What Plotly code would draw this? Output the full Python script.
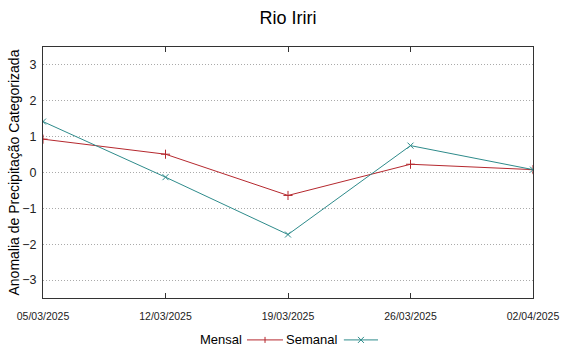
import plotly.graph_objects as go

dates = ["2025-03-05", "2025-03-12", "2025-03-19", "2025-03-26", "2025-04-02"]
mensal = [0.93, 0.51, -0.64, 0.23, 0.08]
semanal = [1.42, -0.13, -1.73, 0.75, 0.08]
y_ticks = [-3, -2, -1, 0, 1, 2, 3]

FONT = "Liberation Sans, Arial, sans-serif"
RED = "#b5282e"
TEAL = "#2e8b8b"

fig = go.Figure()
fig.add_trace(go.Scatter(x=dates, y=mensal, name="Mensal", mode="lines+markers",
                         line=dict(color=RED, width=1),
                         marker=dict(symbol="cross-thin", size=6.5, line=dict(color=RED, width=1))))
fig.add_trace(go.Scatter(x=dates, y=semanal, name="Semanal", mode="lines+markers",
                         line=dict(color=TEAL, width=1),
                         marker=dict(symbol="x-thin", size=6, line=dict(color=TEAL, width=1))))

# Legend drawn gnuplot-style (text before sample), in paper coordinates
LY = -0.167
leg_font = dict(size=13, family=FONT, color="#000")
fig.add_annotation(text="Mensal", x=0.411, y=LY, xref="paper", yref="paper",
                   xanchor="right", yanchor="middle", showarrow=False, font=leg_font)
fig.add_annotation(text="Semanal", x=0.605, y=LY, xref="paper", yref="paper",
                   xanchor="right", yanchor="middle", showarrow=False, font=leg_font)
shape_style = dict(xref="paper", yref="paper", type="line")
fig.add_shape(x0=0.4163, x1=0.4898, y0=LY, y1=LY, line=dict(color=RED, width=1), **shape_style)
fig.add_shape(x0=0.4531, x1=0.4531, y0=LY - 0.012, y1=LY + 0.012, line=dict(color=RED, width=1), **shape_style)
fig.add_shape(x0=0.614, x1=0.6837, y0=LY, y1=LY, line=dict(color=TEAL, width=1), **shape_style)
fig.add_shape(x0=0.6428, x1=0.6550, y0=LY - 0.012, y1=LY + 0.012, line=dict(color=TEAL, width=1), **shape_style)
fig.add_shape(x0=0.6428, x1=0.6550, y0=LY + 0.012, y1=LY - 0.012, line=dict(color=TEAL, width=1), **shape_style)

# y-axis title as rotated annotation for precise placement
fig.add_annotation(text="Anomalia de Precipitação Categorizada", x=0, xref="paper", xshift=-30,
                   y=0.5, yref="paper", textangle=-90, showarrow=False,
                   xanchor="center", yanchor="middle",
                   font=dict(size=14, family=FONT, color="#000"))

fig.update_layout(
    width=567, height=353,
    margin=dict(l=43, r=34, t=47, b=54.5, autoexpand=False),
    paper_bgcolor="white", plot_bgcolor="white",
    font=dict(family=FONT, color="#222"),
    title=dict(text="Rio Iriri", x=0.508, xanchor="center", y=1 - 18 / 353, yanchor="middle",
               font=dict(size=18, family=FONT, color="#000")),
    showlegend=False,
)
fig.update_xaxes(
    type="date", range=[dates[0], dates[-1]], tickvals=dates,
    tickformat="%d/%m/%Y", tickfont=dict(size=10.5, family=FONT, color="#222"),
    showgrid=False, showline=True, linecolor="#333", linewidth=1, mirror="ticks",
    ticks="inside", ticklen=5, tickcolor="#333", zeroline=False,
    ticklabelstandoff=8, automargin=False,
)
fig.update_yaxes(
    range=[-3.5, 3.5], tickvals=y_ticks,
    tickfont=dict(size=12.5, family=FONT, color="#222"),
    showgrid=True, gridcolor="#aaaaaa", griddash="1px,2px", gridwidth=1,
    showline=True, linecolor="#333", linewidth=1, mirror=True,
    ticks="", zeroline=False, automargin=False, ticklabelstandoff=3,
)

fig.write_html("out.html", config={"displayModeBar": False},
               post_script="document.body.style.margin='0';")
